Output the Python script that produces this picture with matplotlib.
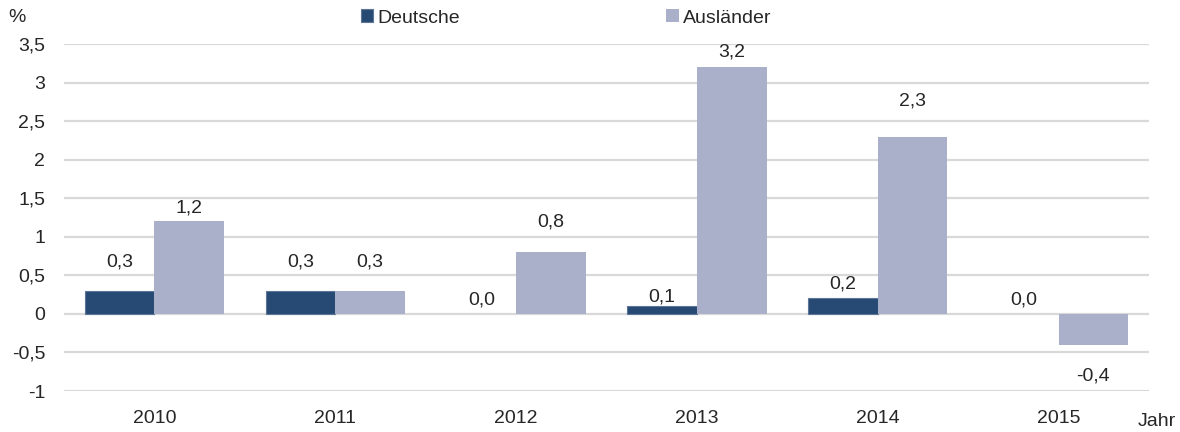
import matplotlib
matplotlib.use('Agg')
import matplotlib.pyplot as plt
import numpy as np

# Daten (Veränderung in %)
jahre = ['2010', '2011', '2012', '2013', '2014', '2015']
deutsche = [0.3, 0.3, 0.0, 0.1, 0.2, 0.0]
auslaender = [1.2, 0.3, 0.8, 3.2, 2.3, -0.4]
y_ticks = [-1, -0.5, 0, 0.5, 1, 1.5, 2, 2.5, 3, 3.5]

# Abstand der Beschriftung zum Balkenende (Pixel)
off_d = [29, 29, 14, 9, 14, 14]
off_a = [13, 29, 30, 15, 36, 31]

plt.rcParams['font.family'] = ['Liberation Sans', 'DejaVu Sans']
fs = 14

farbe_d = '#264A73'
farbe_a = '#AAB0CA'
grau = '#D9D9D9'
text_c = '#262626'

fig = plt.figure(figsize=(11.8, 4.32), dpi=100)
ax = fig.add_axes([64 / 1180, 1 - 391 / 432, (1149 - 64) / 1180, (391 - 44) / 432])

x = np.arange(len(jahre))
w = 0.385
# Rand nur bei Balken mit Höhe != 0 (sonst sichtbare Linie bei 0)
lw_d = [0.8 if v != 0 else 0 for v in deutsche]
b1 = ax.bar(x - w / 2, deutsche, w, color=farbe_d, edgecolor='#5E7598', linewidth=lw_d,
            label='Deutsche', zorder=3)
b2 = ax.bar(x + w / 2, auslaender, w, color=farbe_a, linewidth=0,
            label='Ausländer', zorder=3)

ax.set_xlim(-0.5, len(jahre) - 0.5)
ax.set_ylim(-1, 3.5)
ax.set_yticks(y_ticks)
ax.set_yticklabels([('%g' % v).replace('.', ',') for v in y_ticks], color=text_c, fontsize=fs)
ax.set_xticks(x)
ax.set_xticklabels(jahre, color=text_c, fontsize=fs)
ax.tick_params(axis='both', length=0)
ax.tick_params(axis='y', pad=13.5)
ax.tick_params(axis='x', pad=14)
ax.yaxis.grid(True, color=grau, linewidth=1.6, zorder=0)
ax.set_axisbelow(True)
for s in ax.spines.values():
    s.set_visible(False)

def fmt(v):
    return ('%.1f' % v).replace('.', ',')

pt = 0.72  # Pixel -> Punkt
for i in range(len(jahre)):
    for xx, v, off in [(x[i] - w / 2, deutsche[i], off_d[i]), (x[i] + w / 2, auslaender[i], off_a[i])]:
        s = 1 if v >= 0 else -1
        ax.annotate(fmt(v), (xx, v), xytext=(0, s * off * pt), textcoords='offset points',
                    ha='center', va='center', color=text_c, fontsize=fs)

fig.text(17 / 1180, 1 - 18 / 432, '%', ha='center', va='center', color=text_c, fontsize=fs)
fig.text(1157 / 1180, 1 - 421 / 432, 'Jahr', ha='center', va='center', color=text_c, fontsize=fs)

fig.legend(handles=[b1, b2], loc='center', bbox_to_anchor=(566 / 1180, 1 - 18 / 432), ncol=2,
           frameon=False, handlelength=0.65, handleheight=0.65, handletextpad=0.2,
           columnspacing=10.6, fontsize=fs, labelcolor=text_c)

fig.savefig('out.png', dpi=100)
